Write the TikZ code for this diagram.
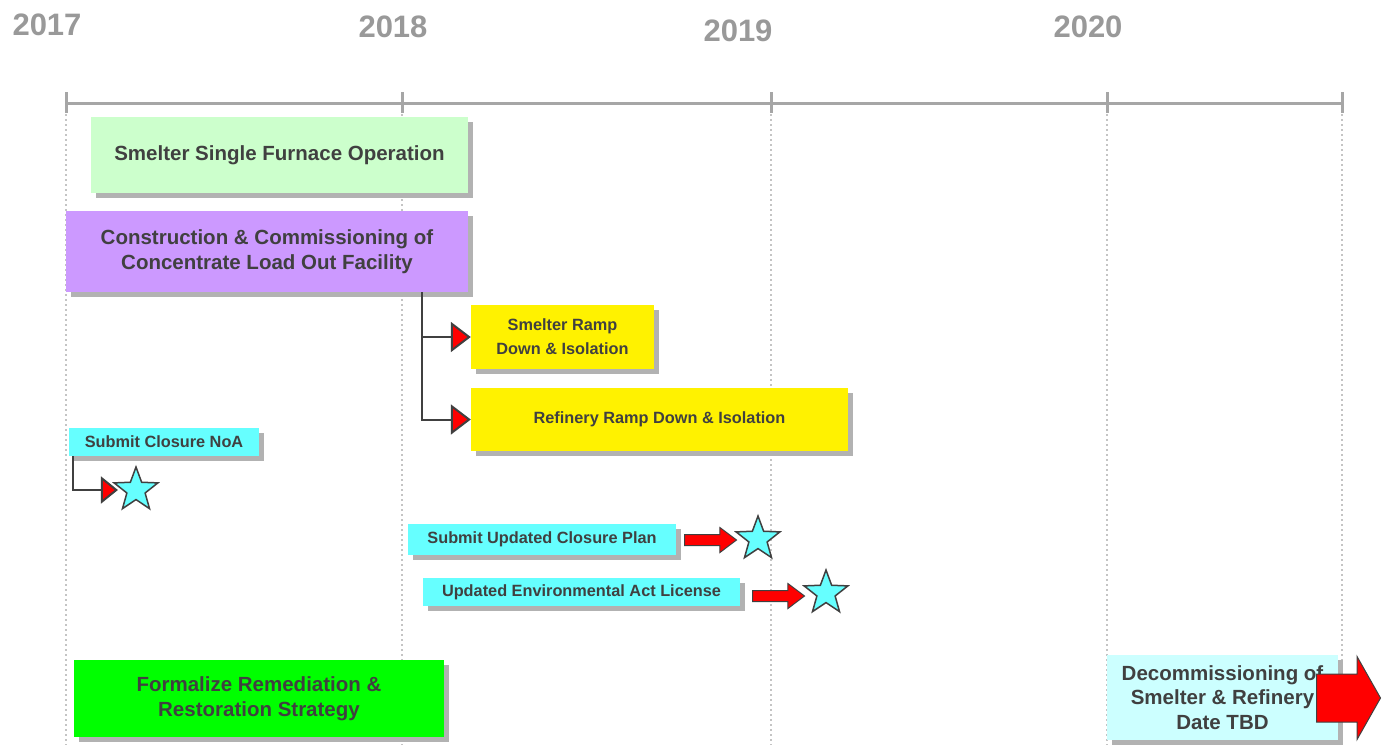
\documentclass[tikz,border=0pt]{standalone}
\usepackage{fontspec}
\setmainfont{Liberation Sans}
\usetikzlibrary{arrows.meta,shapes.geometric,shapes.arrows,shadows}

\definecolor{axisgray}{HTML}{A6A6A6}
\definecolor{gridgray}{HTML}{C4C4C4}
\definecolor{yeargray}{HTML}{999999}
\definecolor{ink}{HTML}{404040}
\definecolor{palegreen}{HTML}{CCFFCC}
\definecolor{lilac}{HTML}{CC99FF}
\definecolor{brightgreen}{HTML}{00FF00}
\definecolor{aqua}{HTML}{66FFFF}
\definecolor{paleaqua}{HTML}{CCFFFF}

\tikzset{
  year/.style={font=\bfseries\fontsize{31}{31}\selectfont, text=yeargray},
  task/.style={rectangle, inner sep=0pt, align=center, text=ink,
    font=\bfseries\fontsize{20.5}{24.5}\selectfont,
    general shadow={fill=gray!60, shadow xshift=5pt, shadow yshift=-5pt}},
  small/.style={font=\bfseries\fontsize{16.3}{24}\selectfont},
  milestone/.style={star, star points=5, star point ratio=2.4, minimum size=46pt,
    inner sep=0pt, fill=aqua, draw=ink, line width=1.5pt},
  redarrow/.style={single arrow, fill=red, draw=ink, line width=1pt, inner xsep=0pt},
  link/.style={draw=ink, line width=2pt},
}

\begin{document}
\begin{tikzpicture}[x=1pt,y=-1pt]
  \useasboundingbox (0,0) rectangle (1388,745);
  % years
  \node[year] (Y17) at (47,25) {2017};
  \node[year] (Y18) at (393,27) {2018};
  \node[year] (Y19) at (738,31) {2019};
  \node[year] (Y20) at (1088,27) {2020};
  % time axis with ticks and dotted guides
  \draw[axisgray, line width=3pt] (66,103) -- (1342,103);
  \foreach \x in {66,402,771,1107,1342} {
    \draw[gridgray, line width=2pt, dash pattern=on 2pt off 3pt] (\x,114) -- (\x,745);
    \draw[axisgray, line width=3pt] (\x,92) -- (\x,113);
  }
  % tasks
  \node[task, fill=palegreen, minimum width=377pt, minimum height=76pt] (F) at (279.5,155)
    {Smelter Single Furnace Operation};
  \node[task, fill=lilac, minimum width=402pt, minimum height=81pt] (CL) at (267,251.5)
    {Construction \& Commissioning of\\Concentrate Load Out Facility};
  \node[task, small, fill=yellow, minimum width=183pt, minimum height=64pt] (SR) at (562.5,337)
    {Smelter Ramp\\Down \& Isolation};
  \node[task, small, fill=yellow, minimum width=377pt, minimum height=63pt] (RR) at (659.5,419.5)
    {Refinery Ramp Down \& Isolation};
  \node[task, small, fill=aqua, minimum width=190pt, minimum height=28pt] (NoA) at (164,442)
    {Submit Closure NoA};
  \node[task, small, fill=aqua, minimum width=268pt, minimum height=31pt] (UCP) at (542,539.5)
    {Submit Updated Closure Plan};
  \node[task, small, fill=aqua, minimum width=317pt, minimum height=28pt] (EAL) at (581.5,592)
    {Updated Environmental Act License};
  \node[task, fill=brightgreen, minimum width=370pt, minimum height=77pt] (RS) at (259,698.5)
    {Formalize Remediation \&\\Restoration Strategy};
  \node[task, fill=paleaqua, minimum width=231pt, minimum height=85pt] (DC) at (1222.5,697.5)
    {Decommissioning of\\Smelter \& Refinery\\Date TBD};
  % milestones
  \node[milestone] (S1) at (136,490) {};
  \node[milestone] (S2) at (758,539) {};
  \node[milestone] (S3) at (826,593) {};
  % links
  \coordinate (J) at (422,292);
  \coordinate (N) at (73,456);
  \draw[link, -{Triangle[length=20pt,width=30pt,fill=red]}] (J) |- (SR.west);
  \draw[link, -{Triangle[length=20pt,width=30pt,fill=red]}] (J) |- (RR.west);
  \draw[link, shorten >=4pt, -{Triangle[length=17pt,width=27pt,fill=red]}] (N) |- (S1.west);
  % block arrows
  \node[redarrow, inner ysep=5pt, minimum height=52pt, single arrow head extend=7pt,
    single arrow tip angle=74, anchor=tail] (A2) at (684,540) {};
  \node[redarrow, inner ysep=5pt, minimum height=52pt, single arrow head extend=7pt,
    single arrow tip angle=74, anchor=tail] (A3) at (752,596) {};
  \node[redarrow, inner ysep=23.5pt, minimum height=64pt, single arrow head extend=17.5pt,
    single arrow tip angle=121, anchor=tail] (A4) at (1316,698) {};
\end{tikzpicture}
\end{document}
